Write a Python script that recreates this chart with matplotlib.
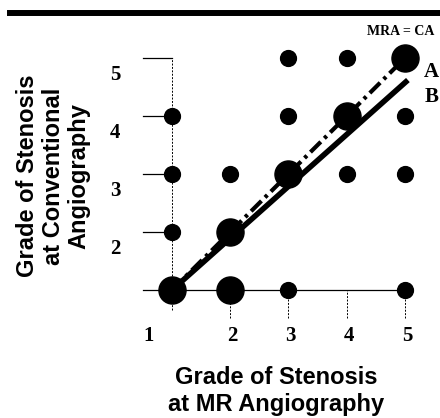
import matplotlib.pyplot as plt
import matplotlib.lines as mlines

plt.rcParams['font.family'] = 'Liberation Sans'

# observed grade pairs (MR angiography, conventional angiography)
small_x = [3, 4, 1, 3, 5, 1, 2, 4, 5, 1, 3, 5]
small_y = [5, 5, 4, 4, 4, 3, 3, 3, 3, 2, 1, 1]
large_x = [5, 4, 3, 2, 1, 2]
large_y = [5, 4, 3, 2, 1, 1]

# regression lines
line_a_x = [1, 5]
line_a_y = [1, 5]
line_b_x = [1, 5.05]
line_b_y = [1, 4.62]

grades = [1, 2, 3, 4, 5]
tick_labels = ['1', '2', '3', '4', '5']

fig = plt.figure(figsize=(4.4, 4.18), dpi=100)
ax = fig.add_axes([0.2982, 0.1952, 0.6884, 0.7493])
ax.set_xlim(0.3, 5.5)
ax.set_ylim(0.2, 5.6)
ax.axis('off')

# axis guide lines
for g in grades[1:]:
    ax.plot([0.5, 1], [g, g], color='black', lw=0.9)
ax.plot([0.5, 5], [1, 1], color='black', lw=0.9)
ax.plot([1, 1], [0.65, 5], color='black', lw=0.7, linestyle=(0, (2, 1.5)))
for g in grades[1:]:
    ax.plot([g, g], [0.52, 1], color='black', lw=0.7, linestyle=(0, (2, 1.5)))

ax.scatter(small_x, small_y, s=130, color='black', zorder=3)
ax.scatter(large_x, large_y, s=380, color='black', zorder=3)

ax.plot(line_a_x, line_a_y, color='black', lw=3, linestyle=(0, (3.5, 1.2, 0.8, 1.2)),
        solid_capstyle='butt', zorder=4)
ax.plot(line_b_x, line_b_y, color='black', lw=4, solid_capstyle='butt', zorder=4)

serif = dict(family='Liberation Serif', fontweight='bold', color='black')
for g, lab in zip(grades[1:], tick_labels[1:]):
    ax.text(0.02, g - 0.3, lab, fontsize=15, ha='center', va='center', **serif)
    ax.text(g + 0.04, 0.2, lab, fontsize=15, ha='center', va='center', **serif)
ax.text(0.59, 0.2, tick_labels[0], fontsize=15, ha='center', va='center', **serif)

ax.text(4.93, 5.45, 'MRA = CA', fontsize=10, ha='center', va='center', **serif)
ax.text(5.46, 4.76, 'A', fontsize=15, ha='center', va='center', **serif)
ax.text(5.46, 4.33, 'B', fontsize=15, ha='center', va='center', **serif)

# top rule
fig.add_artist(mlines.Line2D([0.022, 1.0], [0.969, 0.969], color='black', lw=4.3))

fig.text(53 / 440, 1 - 176 / 418, 'Grade of Stenosis\nat Conventional\nAngiography',
         rotation=90, ha='center', va='center', multialignment='center',
         fontsize=17, fontweight='bold', linespacing=1.15)
fig.text(276 / 440, 1 - 391 / 418, 'Grade of Stenosis\nat MR Angiography',
         ha='center', va='center', multialignment='center',
         fontsize=17, fontweight='bold', linespacing=1.2)

fig.savefig('out.png', dpi=100)
